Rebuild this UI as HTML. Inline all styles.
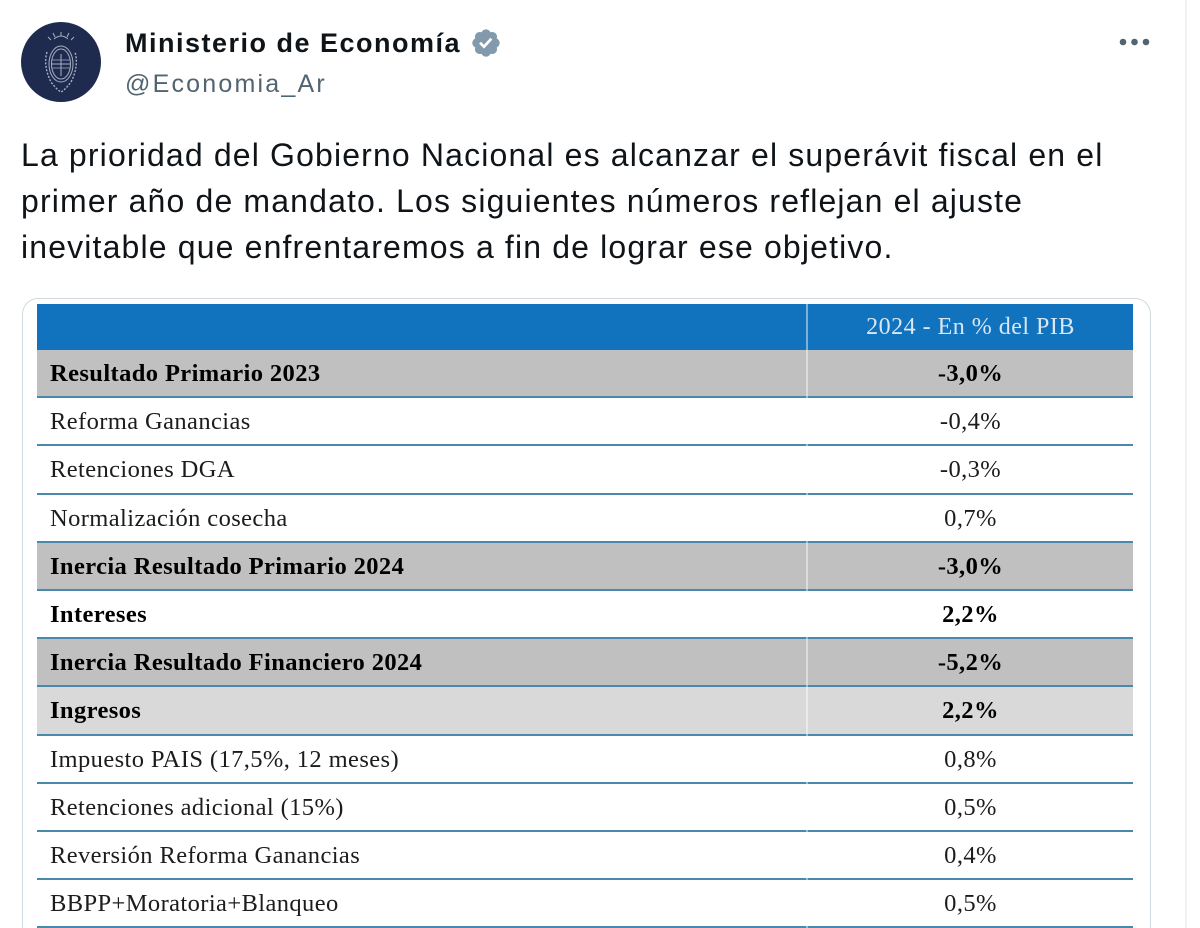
<!DOCTYPE html>
<html>
<head>
<meta charset="utf-8">
<style>
  html,body{margin:0;padding:0;background:#fff;width:1200px;height:928px;overflow:hidden;}
  #wrap{position:relative;width:1200px;height:928px;overflow:hidden;}
  .abs{position:absolute;}
  .tweet{left:21px;top:132px;font-family:"Liberation Sans",Arial,sans-serif;font-size:32px;line-height:46px;color:#0f1419;letter-spacing:1.15px;white-space:nowrap;}
  .name{left:125px;top:30px;font-family:"Liberation Sans",Arial,sans-serif;font-weight:bold;font-size:27px;line-height:27px;color:#0f1419;letter-spacing:1.5px;white-space:nowrap;}
  .handle{left:125px;top:72px;font-family:"Liberation Sans",Arial,sans-serif;font-size:25px;line-height:25px;color:#536471;letter-spacing:2.2px;white-space:nowrap;}
  .card{left:22px;top:298px;width:1129px;height:630px;border:1px solid #cfd9de;border-bottom:none;border-radius:16px 16px 0 0;box-sizing:border-box;}
  .hdr{left:37px;top:304px;width:1096px;height:46px;background:#1172be;}
  .hdrtxt{left:808px;top:304px;width:325px;height:46px;line-height:46px;text-align:center;font-family:"Liberation Serif","Times New Roman",serif;font-size:24px;color:#d9e6f3;letter-spacing:0.5px;}
  .row{position:absolute;left:37px;width:1096px;height:47.8px;}
  .row .bg{position:absolute;left:0;top:0;width:1096px;height:46.5px;}
  .row .ln{position:absolute;left:0;top:46.2px;width:1096px;height:2.4px;background:#4a89ab;}
  .row.last .ln{height:1.6px;}
  .row .l{position:absolute;left:13px;top:0;height:46.5px;line-height:48px;font-family:"Liberation Serif","Times New Roman",serif;font-size:24.5px;color:#1c1c1c;letter-spacing:0.4px;white-space:nowrap;}
  .row .v{position:absolute;left:771px;width:325px;top:0;height:46.5px;line-height:48px;text-align:center;font-family:"Liberation Serif","Times New Roman",serif;font-size:24.5px;color:#1c1c1c;letter-spacing:0.4px;}
  .b .l,.b .v{font-weight:bold;color:#000;}
  .g1 .bg{background:#c0c0c0;}
  .g2 .bg{background:#d9d9d9;}
  .w .bg{background:#fff;}
  .div{left:806px;top:304px;width:2px;height:624px;background:rgba(255,255,255,0.45);}
</style>
</head>
<body>
<div id="wrap">

<!-- right gray rule -->
<div class="abs" style="left:1185px;top:0;width:2px;height:928px;background:#eff3f4;"></div>

<!-- avatar -->
<svg class="abs" style="left:21px;top:22px;" width="80" height="80" viewBox="0 0 80 80">
  <circle cx="40" cy="40" r="40" fill="#1f2b4e"/>
  <g stroke="#a7afc2" fill="none" stroke-width="1">
    <path d="M40 14 L40 10 M34 15 L32 11 M46 15 L48 11 M30 18 L27 15 M50 18 L53 15"/>
    <path d="M33 17 Q40 11 47 17"/>
    <ellipse cx="40" cy="42" rx="12" ry="18"/>
    <ellipse cx="40" cy="42" rx="9.5" ry="15"/>
    <path d="M30.5 42 L49.5 42"/>
    <path d="M31 38 L49 38 M31 46 L49 46" stroke-width="0.7"/>
    <path d="M40 32 L40 54"/>
    <path d="M26 30 Q22 44 30 60 Q36 68 40 70 Q44 68 50 60 Q58 44 54 30" stroke-width="1.4" stroke-dasharray="2 1.5"/>
  </g>
</svg>

<div class="abs name">Ministerio de Economía</div>
<svg class="abs" style="left:470px;top:27px;" width="32" height="32" viewBox="0 0 24 24">
  <path fill="#829aab" d="M22.25 12c0-1.430-.88-2.670-2.190-3.340.46-1.390.2-2.900-.81-3.910s-2.520-1.270-3.910-.81c-.66-1.310-1.910-2.190-3.340-2.190s-2.670.88-3.330 2.190c-1.400-.46-2.910-.2-3.920.81s-1.260 2.520-.8 3.910c-1.310.67-2.200 1.910-2.200 3.340s.89 2.670 2.200 3.340c-.46 1.390-.21 2.900.8 3.910s2.520 1.260 3.910.81c.67 1.310 1.910 2.190 3.340 2.190s2.680-.88 3.340-2.190c1.390.45 2.900.2 3.910-.81s1.270-2.520.81-3.910c1.310-.67 2.190-1.910 2.190-3.340zm-11.710 4.200L6.800 12.460l1.410-1.420 2.260 2.260 4.800-5.230 1.470 1.360-6.200 6.770z"/>
</svg>
<div class="abs handle">@Economia_Ar</div>

<!-- more dots -->
<svg class="abs" style="left:1115px;top:35px;" width="40" height="14" viewBox="0 0 40 14">
  <circle cx="8" cy="7" r="3.3" fill="#536471"/>
  <circle cx="19.5" cy="7" r="3.3" fill="#536471"/>
  <circle cx="31" cy="7" r="3.3" fill="#536471"/>
</svg>

<div class="abs tweet">La prioridad del Gobierno Nacional es alcanzar el superávit fiscal en el<br>primer año de mandato. Los siguientes números reflejan el ajuste<br>inevitable que enfrentaremos a fin de lograr ese objetivo.</div>

<!-- card -->
<div class="abs card"></div>
<div class="abs hdr"></div>
<div class="abs hdrtxt">2024 - En % del PIB</div>

<div class="row g1 b" style="top:350px;"><div class="bg"></div><div class="ln"></div><div class="l">Resultado Primario 2023</div><div class="v">-3,0%</div></div>
<div class="row w" style="top:398.2px;"><div class="bg"></div><div class="ln"></div><div class="l">Reforma Ganancias</div><div class="v">-0,4%</div></div>
<div class="row w" style="top:446.4px;"><div class="bg"></div><div class="ln"></div><div class="l">Retenciones DGA</div><div class="v">-0,3%</div></div>
<div class="row w" style="top:494.6px;"><div class="bg"></div><div class="ln"></div><div class="l">Normalización cosecha</div><div class="v">0,7%</div></div>
<div class="row g1 b" style="top:542.8px;"><div class="bg"></div><div class="ln"></div><div class="l">Inercia Resultado Primario 2024</div><div class="v">-3,0%</div></div>
<div class="row w b" style="top:591px;"><div class="bg"></div><div class="ln"></div><div class="l">Intereses</div><div class="v">2,2%</div></div>
<div class="row g1 b" style="top:639.2px;"><div class="bg"></div><div class="ln"></div><div class="l">Inercia Resultado Financiero 2024</div><div class="v">-5,2%</div></div>
<div class="row g2 b" style="top:687.4px;"><div class="bg"></div><div class="ln"></div><div class="l">Ingresos</div><div class="v">2,2%</div></div>
<div class="row w" style="top:735.6px;"><div class="bg"></div><div class="ln"></div><div class="l">Impuesto PAIS (17,5%, 12 meses)</div><div class="v">0,8%</div></div>
<div class="row w" style="top:783.8px;"><div class="bg"></div><div class="ln"></div><div class="l">Retenciones adicional (15%)</div><div class="v">0,5%</div></div>
<div class="row w" style="top:832px;"><div class="bg"></div><div class="ln"></div><div class="l">Reversión Reforma Ganancias</div><div class="v">0,4%</div></div>
<div class="row w last" style="top:880.2px;"><div class="bg"></div><div class="ln"></div><div class="l">BBPP+Moratoria+Blanqueo</div><div class="v">0,5%</div></div>

<div class="abs div"></div>

</div>
</body>
</html>
